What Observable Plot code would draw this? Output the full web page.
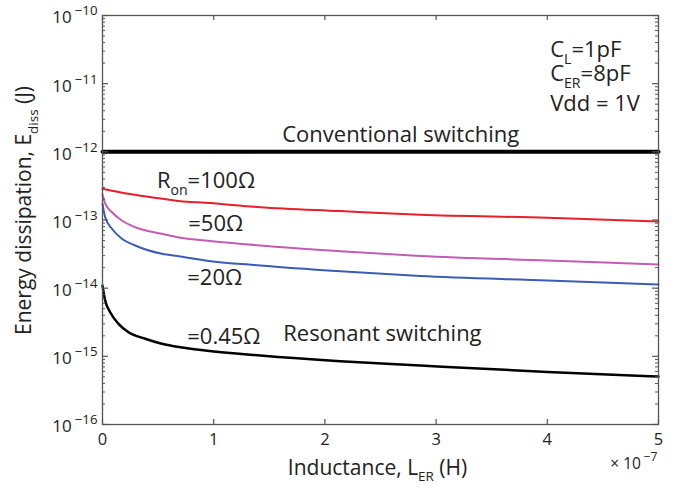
<!DOCTYPE html>
<html>
<head>
<meta charset="utf-8">
<script src="https://cdn.jsdelivr.net/npm/d3@7"></script>
<script src="https://cdn.jsdelivr.net/npm/@observablehq/plot@0.6"></script>
<style>
  html, body { margin: 0; padding: 0; background: #fff; }
  #chart { width: 673px; height: 490px; }
</style>
</head>
<body>
<div id="chart"></div>
<script>
// ---- data (x in units of 1e-7 H, y in J) ----
const xTicks = [0, 1, 2, 3, 4, 5];
const yTicks = [1e-16, 1e-15, 1e-14, 1e-13, 1e-12, 1e-11, 1e-10];
const yTickLabels = ["10^{−16}", "10^{−15}", "10^{−14}", "10^{−13}", "10^{−12}", "10^{−11}", "10^{−10}"];

const L_conv = [0, 5];
const E_conv = [1e-12, 1e-12];

const L_r100 = [0, 0.231, 0.537, 0.699, 0.924, 1.418, 2.138, 2.857, 4.0, 5];
const E_r100 = [2.87e-13, 2.42e-13, 2.05e-13, 1.89e-13, 1.79e-13, 1.54e-13, 1.35e-13, 1.19e-13, 1.08e-13, 9.5e-14];

const L_r50 = [0, 0.024, 0.085, 0.174, 0.294, 0.534, 0.699, 0.924, 1.418, 2.138, 2.857, 4.0, 5];
const E_r50 = [2.37e-13, 1.75e-13, 1.30e-13, 9.83e-14, 7.84e-14, 6.28e-14, 5.48e-14, 5.01e-14, 4.23e-14, 3.49e-14, 2.97e-14, 2.55e-14, 2.23e-14];

const L_r20 = [0, 0.024, 0.085, 0.174, 0.294, 0.534, 0.699, 0.924, 1.418, 2.138, 2.857, 4.0, 5];
const E_r20 = [1.73e-13, 1.10e-13, 7.43e-14, 5.30e-14, 4.23e-14, 3.19e-14, 2.92e-14, 2.55e-14, 2.15e-14, 1.77e-14, 1.51e-14, 1.30e-14, 1.13e-14];

const L_r045 = [0, 0.024, 0.069, 0.144, 0.234, 0.384, 0.534, 0.699, 0.924, 1.418, 2.138, 2.857, 4.0, 5];
const E_r045 = [1.09e-14, 6.60e-15, 4.44e-15, 3.00e-15, 2.26e-15, 1.81e-15, 1.53e-15, 1.36e-15, 1.22e-15, 1.03e-15, 8.49e-16, 7.34e-16, 5.89e-16, 5.06e-16];

const annoText = ["Conventional switching", "R_{on}=100Ω", "=50Ω", "=20Ω", "=0.45Ω", "Resonant switching", "C_{L}=1pF", "C_{ER}=8pF", "Vdd = 1V"];
const annoL    = [1.616, 0.489, 0.771, 0.762, 0.762, 1.625, 4.026, 4.026, 4.026];
const annoE    = [1.74e-12, 3.80e-13, 8.89e-14, 1.39e-14, 1.95e-15, 2.16e-15, 3.17e-11, 1.41e-11, 5.12e-12];

// ---- build tables ----
const zip = (L, E) => L.map((x, i) => ({x, y: E[i]}));
const conv = zip(L_conv, E_conv);
const r100 = zip(L_r100, E_r100);
const r50 = zip(L_r50, E_r50);
const r20 = zip(L_r20, E_r20);
const r045 = zip(L_r045, E_r045);
const annos = annoText.map((t, i) => ({text: t, x: annoL[i], y: annoE[i]}));

// minor log ticks
const yMinor = [];
for (let e = -16; e < -10; e++) for (let k = 2; k <= 9; k++) yMinor.push(Number(`${k}e${e}`));

const W = 673, H = 490, mL = 102, mR = 15, mT = 15, mB = 66;
const pw = W - mL - mR, ph = H - mT - mB;
const axisColor = "#555";
const textColor = "#222";

const plot = Plot.plot({
  width: W, height: H,
  marginLeft: mL, marginRight: mR, marginTop: mT, marginBottom: mB,
  style: {fontFamily: "'Open Sans', sans-serif", fontSize: "16px", color: textColor, background: "#fff", overflow: "visible"},
  x: {domain: [0, 5]},
  y: {type: "log", domain: [1e-16, 1e-10]},
  marks: [
    // data lines
    Plot.line(conv, {x: "x", y: "y", stroke: "#000", strokeWidth: 4}),
    Plot.line(r100, {x: "x", y: "y", stroke: "#e6202a", strokeWidth: 2, curve: "monotone-x"}),
    Plot.line(r50, {x: "x", y: "y", stroke: "#c25cb4", strokeWidth: 2, curve: "monotone-x"}),
    Plot.line(r20, {x: "x", y: "y", stroke: "#3b5cb3", strokeWidth: 2, curve: "monotone-x"}),
    Plot.line(r045, {x: "x", y: "y", stroke: "#000", strokeWidth: 2.5, curve: "monotone-x"}),
    // frame
    Plot.frame({stroke: axisColor, strokeWidth: 1.3}),
    // inward ticks: x bottom/top
    Plot.ruleX(xTicks, {x: d => d, insetTop: ph - 5, stroke: axisColor, strokeWidth: 1.2}),
    Plot.ruleX(xTicks, {x: d => d, insetBottom: ph - 5, stroke: axisColor, strokeWidth: 1.2}),
    // inward ticks: y major left/right
    Plot.ruleY(yTicks, {y: d => d, insetRight: pw - 6, stroke: axisColor, strokeWidth: 1.2}),
    Plot.ruleY(yTicks, {y: d => d, insetLeft: pw - 6, stroke: axisColor, strokeWidth: 1.2}),
    // inward ticks: y minor left/right
    Plot.ruleY(yMinor, {y: d => d, insetRight: pw - 3, stroke: axisColor, strokeWidth: 1}),
    Plot.ruleY(yMinor, {y: d => d, insetLeft: pw - 3, stroke: axisColor, strokeWidth: 1}),
    // tick labels
    Plot.axisX({ticks: xTicks, tickSize: 0, tickPadding: 9, tickFormat: d => String(d), fontSize: 16.5, label: null, fill: textColor}),
    Plot.axisY({ticks: yTicks, tickSize: 0, tickPadding: 5, dy: 2.5, tickFormat: d => yTickLabels[yTicks.indexOf(d)], fontSize: 17, label: null, fill: textColor}),
    // multiplier
    Plot.text(["×\u00A010^{−7}"], {frameAnchor: "bottom-right", textAnchor: "end", dx: -1, dy: 44, fontSize: 15.5, fill: textColor}),
    // axis titles
    Plot.text(["Inductance, L_{ER} (H)"], {frameAnchor: "bottom", textAnchor: "middle", dx: -3, dy: 50, fontSize: 21, fill: textColor}),
    Plot.text(["Energy dissipation, E_{diss} (J)"], {frameAnchor: "left", textAnchor: "middle", rotate: -90, dx: -78, dy: -9.5, fontSize: 21, fill: textColor}),
    // annotations
    Plot.text(annos, {x: "x", y: "y", text: "text", textAnchor: "start", fontSize: 22, fill: textColor})
  ]
});

document.getElementById("chart").appendChild(plot);

// turn _{..} and ^{..} into real subscripts / superscripts
const NS = "http://www.w3.org/2000/svg";
plot.querySelectorAll("text").forEach(t => {
  const s = t.textContent;
  if (!/[_^]\{/.test(s)) return;
  const fs = parseFloat(getComputedStyle(t).fontSize) || 16;
  while (t.firstChild) t.removeChild(t.firstChild);
  const re = /([_^])\{([^}]*)\}|([^_^]+)/g;
  let m, cur = 0;
  while ((m = re.exec(s))) {
    const ts = document.createElementNS(NS, "tspan");
    let target;
    if (m[3] !== undefined) {
      ts.textContent = m[3];
      target = 0;
    } else if (m[1] === "^") {
      ts.textContent = m[2];
      ts.setAttribute("font-size", (0.78 * fs).toFixed(2));
      ts.setAttribute("dx", (0.18 * fs).toFixed(2));
      target = -0.47 * fs;
    } else {
      ts.textContent = m[2];
      ts.setAttribute("font-size", (0.64 * fs).toFixed(2));
      target = 0.33 * fs;
    }
    const dy = target - cur;
    if (dy !== 0) ts.setAttribute("dy", dy.toFixed(2));
    cur = target;
    t.appendChild(ts);
  }
});
</script>
</body>
</html>
